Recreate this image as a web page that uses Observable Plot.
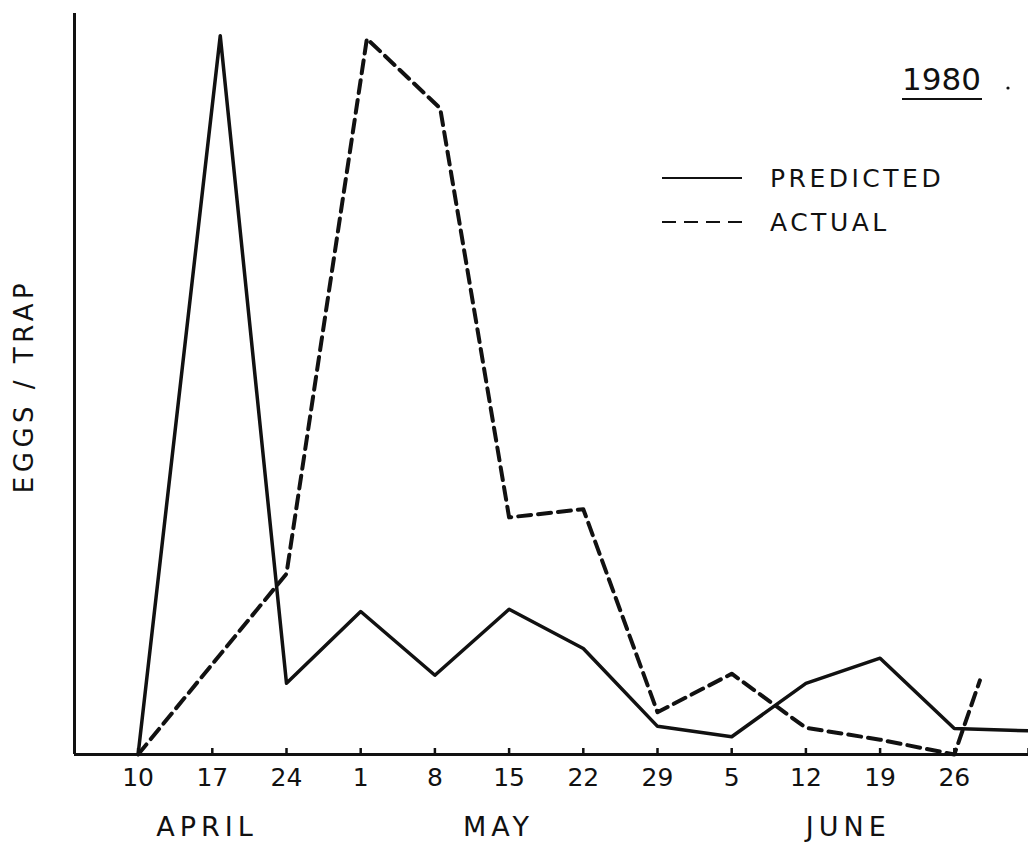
<!DOCTYPE html>
<html><head><meta charset="utf-8">
<script src="https://cdn.jsdelivr.net/npm/d3@7"></script>
<script src="https://cdn.jsdelivr.net/npm/@observablehq/plot@0.6"></script>
<style>
body{margin:0;background:#fff;}
#wrap{position:relative;width:1028px;height:846px;}
#overlay{position:absolute;left:0;top:0;pointer-events:none;}
text{font-family:"DejaVu Sans",sans-serif;fill:#111;}
</style></head><body>
<div id="wrap"></div>
<script>
// ---- data (arbitrary EGGS/TRAP units, 0..100) ----
const weekDates = ["1980-04-10","1980-04-17","1980-04-24","1980-05-01","1980-05-08","1980-05-15","1980-05-22","1980-05-29","1980-06-05","1980-06-12","1980-06-19","1980-06-26","1980-07-03"];
const weekLabels = ["10","17","24","1","8","15","22","29","5","12","19","26",""];
const months = ["APRIL","MAY","JUNE"];
const monthCenters = ["1980-04-16T12:00Z","1980-05-14T00:00Z","1980-06-16T00:00Z"];

const predictedDates = ["1980-04-10","1980-04-17T18:00Z","1980-04-24","1980-05-01","1980-05-08","1980-05-15","1980-05-22","1980-05-29","1980-06-05","1980-06-12","1980-06-19","1980-06-26","1980-07-03"];
const predictedValues = [0, 97.0, 9.6, 19.3, 10.7, 19.6, 14.3, 3.8, 2.4, 9.6, 13.0, 3.5, 3.2];

const actualDates = ["1980-04-10","1980-04-24","1980-05-01T14:00Z","1980-05-08T12:00Z","1980-05-15","1980-05-22","1980-05-29","1980-06-05","1980-06-12","1980-06-19","1980-06-26","1980-06-28T10:00Z"];
const actualValues = [0, 24.4, 96.6, 87.2, 32.0, 33.1, 5.7, 10.9, 3.6, 2.0, 0, 10.0];

const seriesNames = ["PREDICTED","ACTUAL"];
const yearLabel = "1980";
const yLabel = "EGGS / TRAP";

// ---- build ----
const toDate = s => new Date(s.length === 10 ? s + "T00:00Z" : s);
const predicted = predictedDates.map((d,i)=>({date:toDate(d), value:predictedValues[i]}));
const actual = actualDates.map((d,i)=>({date:toDate(d), value:actualValues[i]}));
const ticks = weekDates.map(toDate);
const tickLabel = new Map(ticks.map((d,i)=>[+d, weekLabels[i]]));
const mCenters = monthCenters.map(toDate);
const mLabel = new Map(mCenters.map((d,i)=>[+d, months[i]]));

const W = 1028, H = 846, mT = 13, mB = 92, mL = 74, mR = 0;
const x0 = new Date("1980-04-04T00:00Z"), x1 = new Date("1980-07-03T00:00Z");
const ink = "#111";

const chart = Plot.plot({
  width: W, height: H, marginTop: mT, marginBottom: mB, marginLeft: mL, marginRight: mR,
  x: {type: "utc", domain: [x0, x1]},
  y: {domain: [0, 100], axis: null},
  style: {fontFamily: "'DejaVu Sans', sans-serif", background: "transparent", color: ink, overflow: "visible"},
  marks: [
    Plot.ruleX([x0], {stroke: ink, strokeWidth: 3}),
    Plot.ruleY([0], {stroke: ink, strokeWidth: 3}),
    Plot.tickX(ticks, {x: d => d, stroke: ink, strokeWidth: 2.5, insetTop: H - mT - mB - 6}),
    Plot.axisX(ticks, {tickSize: 0, tickPadding: 14, fontSize: 25, label: null,
      tickFormat: d => tickLabel.get(+d), fill: ink, letterSpacing: 2}),
    Plot.axisX(mCenters, {tickSize: 0, tickPadding: 62, fontSize: 27, label: null,
      tickFormat: d => mLabel.get(+d), fill: ink}),
    Plot.line(predicted, {x: "date", y: "value", stroke: ink, strokeWidth: 3.5, strokeLinejoin: "round", clip: true}),
    Plot.line(actual, {x: "date", y: "value", stroke: ink, strokeWidth: 4, strokeDasharray: "13,7", strokeLinejoin: "round"})
  ]
});
const wrap = document.getElementById("wrap");
wrap.appendChild(chart);
// letter spacing on month labels
const gs = chart.querySelectorAll("g[aria-label='x-axis tick label']");
if (gs[1]) gs[1].setAttribute("letter-spacing", "5");

// overlay: title, legend, y label
const ns = "http://www.w3.org/2000/svg";
const ov = document.createElementNS(ns, "svg");
ov.setAttribute("id", "overlay");
ov.setAttribute("width", W); ov.setAttribute("height", H);
ov.innerHTML = `
  <text x="902" y="90" font-size="31">${yearLabel}</text>
  <line x1="902" x2="982" y1="99" y2="99" stroke="${ink}" stroke-width="2"/>
  <circle cx="1008" cy="88" r="1.6" fill="${ink}"/>
  <line x1="662" x2="742" y1="178" y2="178" stroke="${ink}" stroke-width="2"/>
  <text x="770" y="187" font-size="25" letter-spacing="3.5">${seriesNames[0]}</text>
  <line x1="662" x2="742" y1="222" y2="222" stroke="${ink}" stroke-width="2" stroke-dasharray="14,8"/>
  <text x="770" y="231" font-size="25" letter-spacing="3.5">${seriesNames[1]}</text>
  <text transform="translate(33,386) rotate(-90)" text-anchor="middle" font-size="26" letter-spacing="4.5">${yLabel}</text>
`;
wrap.appendChild(ov);
</script>
</body></html>
